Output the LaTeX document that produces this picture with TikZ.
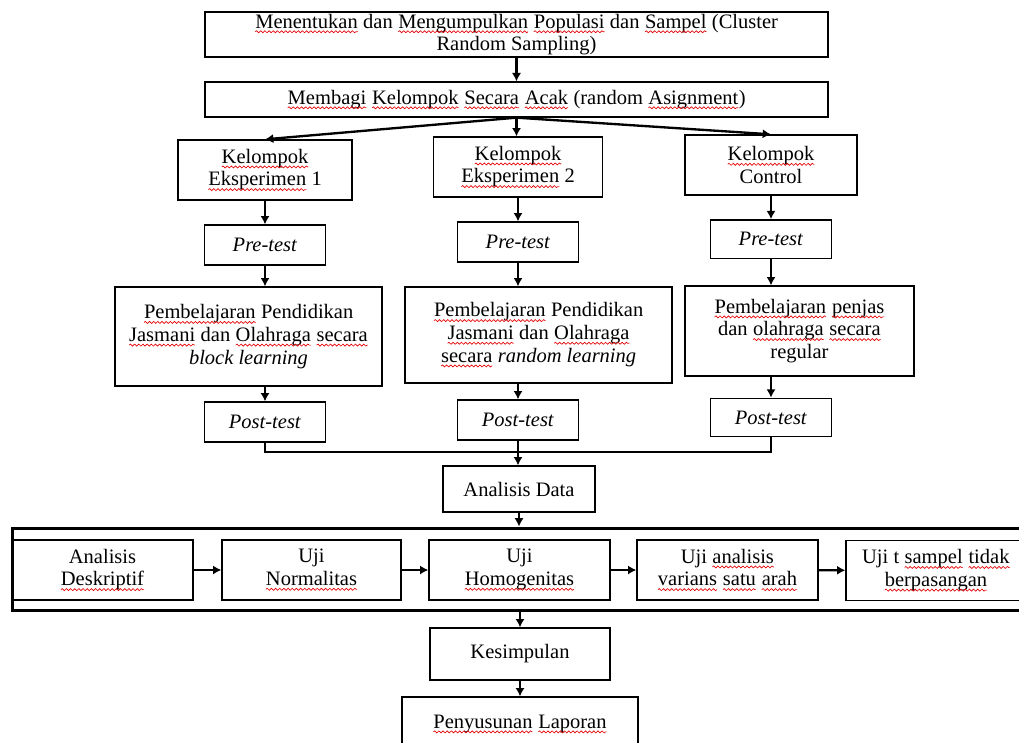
\documentclass[tikz,border=0pt]{standalone}
\usepackage{fontspec}
\setmainfont{Liberation Serif}
\usetikzlibrary{arrows.meta,decorations.pathmorphing}
% red wavy underline, as in the word processor
\newcommand{\wv}[1]{\tikz[baseline=(w.base), x=1pt, y=1pt]{\node[draw=none, minimum width=0pt, minimum height=0pt, inner sep=0pt, outer sep=0pt] (w) {#1};
  \draw[red!90!black, line width=0.4pt, decorate, decoration={snake, amplitude=0.6pt, segment length=2.5pt}] ([yshift=-2.2pt]w.base west) -- ([yshift=-2.2pt]w.base east);}}
\begin{document}
\begin{tikzpicture}[x=0.6pt, y=-0.6pt,
  box/.style={draw, line width=0.8pt, align=center, inner sep=1pt, font=\fontsize{12.3}{13.6}\selectfont},
  arr/.style={line width=1.4pt, -{Latex[length=5pt,width=5.5pt]}},
  ln/.style={line width=1.4pt},
  frame/.style={draw, line width=1.8pt, minimum width=610.8pt, minimum height=49.2pt}]
\useasboundingbox (0,0) rectangle (1019,742);
\clip (0,0) rectangle (1019,742);
\node[box, minimum width=373.8pt, minimum height=27pt] (pop) at (516.5,34.5) {\wv{Menentukan} dan \wv{Mengumpulkan} \wv{Populasi} dan \wv{Sampel} (Cluster\\Random Sampling)};
\node[box, minimum width=373.8pt, minimum height=21pt] (bagi) at (516.5,99.5) {\wv{Membagi} \wv{Kelompok} \wv{Secara} \wv{Acak} (random \wv{Asignment})};
\node[box, minimum width=104.4pt, minimum height=36pt] (k1) at (265,170) {\wv{Kelompok}\\\wv{Eksperimen} 1};
\node[box, minimum width=101.4pt, minimum height=36pt] (k2) at (518,167) {\wv{Kelompok}\\\wv{Eksperimen} 2};
\node[box, minimum width=103.2pt, minimum height=36pt] (k3) at (771,165) {\wv{Kelompok}\\Control};
\node[box, minimum width=72.6pt, minimum height=24pt] (pre1) at (265,245) {\textit{Pre-test}};
\node[box, minimum width=72.6pt, minimum height=24pt] (pre2) at (518,242) {\textit{Pre-test}};
\node[box, minimum width=72.6pt, minimum height=23pt] (pre3) at (771,239) {\textit{Pre-test}};
\node[box, minimum width=160.2pt, minimum height=59.4pt] (bel1) at (248.5,336.5) {\wv{Pembelajaran} Pendidikan\\\wv{Jasmani} dan \wv{Olahraga} \wv{secara}\\\textit{block learning}};
\node[box, minimum width=160.2pt, minimum height=57.6pt] (bel2) at (538.5,335) {\wv{Pembelajaran} Pendidikan\\\wv{Jasmani} dan \wv{Olahraga}\\\wv{secara} \textit{random learning}};
\node[box, minimum width=137.4pt, minimum height=54pt] (bel3) at (799.5,331) {\wv{Pembelajaran} \wv{penjas}\\dan \wv{olahraga} \wv{secara}\\regular};
\node[box, minimum width=72.6pt, minimum height=24pt] (post1) at (265,422) {\textit{Post-test}};
\node[box, minimum width=72.6pt, minimum height=24pt] (post2) at (518,420) {\textit{Post-test}};
\node[box, minimum width=72.6pt, minimum height=23pt] (post3) at (771,417.5) {\textit{Post-test}};
\coordinate (jn) at (518,452);
\node[box, minimum width=91.2pt, minimum height=27.6pt] (data) at (519,489) {Analisis Data};
\node[frame] (uji) at (521,569) {};
\node[box, minimum width=108.6pt, minimum height=36pt] (des) at (102.5,570) {Analisis\\\wv{Deskriptif}};
\node[box, minimum width=107.4pt, minimum height=36pt] (norm) at (311.5,570) {Uji\\\wv{Normalitas}};
\node[box, minimum width=108.6pt, minimum height=36pt] (homo) at (519.5,570) {Uji\\\wv{Homogenitas}};
\node[box, minimum width=108.6pt, minimum height=36pt] (anova) at (727.5,570) {Uji \wv{analisis}\\\wv{varians} \wv{satu} \wv{arah}};
\node[box, minimum width=108pt, minimum height=36pt] (ttest) at (936,570.5) {Uji t \wv{sampel} \wv{tidak}\\\wv{berpasangan}};
\node[box, minimum width=108pt, minimum height=31.2pt] (simpul) at (520,654) {Kesimpulan};
\node[box, minimum width=141.6pt, minimum height=32.4pt] (lapor) at (520,724) {\wv{Penyusunan} \wv{Laporan}};
% top part
\draw[arr] (pop) -- (pop.south |- bagi.north);
\draw[arr] (bagi.south) -- (k1.north);
\draw[arr] (bagi.south) -- (bagi.south |- k2.north);
\draw[arr] (bagi.south) -- (k3.north);
% three columns
\draw[arr] (k1) -- (pre1);
\draw[arr] (k2) -- (pre2);
\draw[arr] (k3) -- (pre3);
\draw[arr] (pre1.south) -- (pre1.south |- bel1.north);
\draw[arr] (pre2.south) -- (pre2.south |- bel2.north);
\draw[arr] (pre3.south) -- (pre3.south |- bel3.north);
\draw[arr] (post1.north |- bel1.south) -- (post1);
\draw[arr] (post2.north |- bel2.south) -- (post2);
\draw[arr] (post3.north |- bel3.south) -- (post3);
% joining
\draw[ln] (post1.south) |- (jn) -| (post3.south);
\draw[ln] (post2.south) -- (post2.south |- jn);
\draw[arr] (jn) -- (jn |- data.north);
\draw[arr] (data.south) -- (data.south |- uji.north);
% tests
\draw[arr] (des) -- (norm);
\draw[arr] (norm) -- (homo);
\draw[arr] (homo) -- (anova);
\draw[arr] (anova) -- (ttest);
\draw[arr] (simpul.north |- uji.south) -- (simpul);
\draw[arr] (simpul) -- (lapor);
\end{tikzpicture}
\end{document}
